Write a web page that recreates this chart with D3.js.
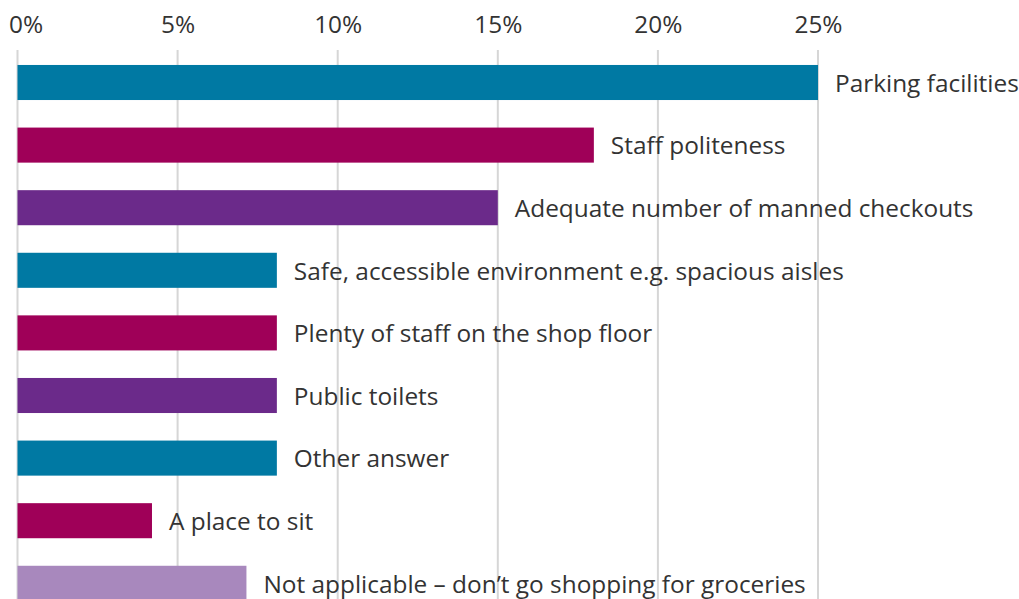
<!DOCTYPE html>
<meta charset="utf-8">
<style>
body { margin: 0; background: #fff; }
text { font-family: "Open Sans", Lato, sans-serif; fill: #333; }
.tick text { font-size: 24.4px; }
.label { font-size: 24.4px; }
.grid line { stroke: #d6d6d6; stroke-width: 2px; }
</style>
<svg width="1019" height="599"></svg>
<script src="https://d3js.org/d3.v7.min.js"></script>
<script>

// categories, top to bottom
var categories = [
  "Parking facilities",
  "Staff politeness",
  "Adequate number of manned checkouts",
  "Safe, accessible environment e.g. spacious aisles",
  "Plenty of staff on the shop floor",
  "Public toilets",
  "Other answer",
  "A place to sit",
  "Not applicable \u2013 don\u2019t go shopping for groceries"
];

// share of respondents, %
var values = [25, 18, 15, 8.1, 8.1, 8.1, 8.1, 4.2, 7.15];

var barColors = ["#0079a3", "#9f0058", "#6b2a8a", "#0079a3", "#9f0058", "#6b2a8a", "#0079a3", "#9f0058", "#a888bd"];

var tickValues = [0, 5, 10, 15, 20, 25];

var svg = d3.select("svg"),
    height = +svg.attr("height");

var x = d3.scaleLinear().domain([0, 25]).range([17.5, 818]);

var y = d3.scaleBand()
    .domain(categories)
    .range([51.2, 51.2 + 9 * 62.6])
    .paddingInner(0.44)
    .paddingOuter(0.22);

// gridlines
svg.append("g")
    .attr("class", "grid")
  .selectAll("line")
  .data(tickValues)
  .enter().append("line")
    .attr("x1", function(d) { return x(d); })
    .attr("x2", function(d) { return x(d); })
    .attr("y1", 50)
    .attr("y2", height);

// top axis labels
var axis = svg.append("g")
    .attr("transform", "translate(0,33)")
    .call(d3.axisTop(x).tickValues(tickValues).tickSize(0).tickPadding(0)
      .tickFormat(function(d) { return d + "%"; }));
axis.select(".domain").remove();
axis.selectAll("text").attr("font-family", null).attr("font-size", null).attr("fill", "#333");
// first label sits clear of the left edge
axis.selectAll("text").filter(function(d) { return d === 0; }).attr("dx", 8);

var data = categories.map(function(c, i) { return {name: c, value: values[i], color: barColors[i]}; });

// bars
svg.append("g").selectAll("rect")
  .data(data)
  .enter().append("rect")
    .attr("x", x(0))
    .attr("y", function(d) { return y(d.name); })
    .attr("width", function(d) { return x(d.value) - x(0); })
    .attr("height", y.bandwidth())
    .attr("fill", function(d) { return d.color; });

// labels beside bars
svg.append("g").selectAll("text")
  .data(data)
  .enter().append("text")
    .attr("class", "label")
    .attr("x", function(d) { return x(d.value) + 17; })
    .attr("y", function(d) { return y(d.name) + y.bandwidth() / 2; })
    .attr("dy", "0.38em")
    .text(function(d) { return d.name; });

</script>
